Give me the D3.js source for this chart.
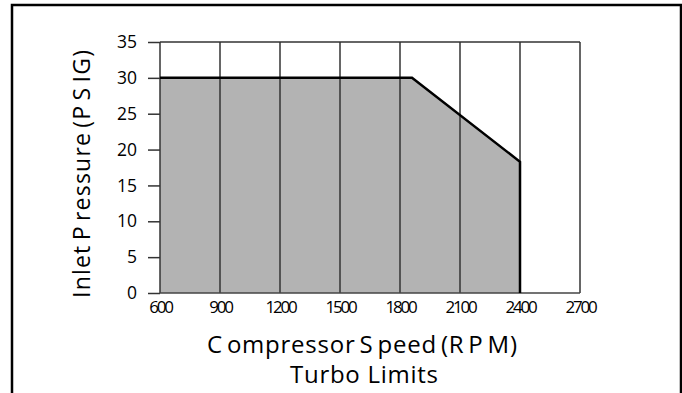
<!DOCTYPE html>
<html>
<head>
<meta charset="utf-8">
<script src="https://cdn.jsdelivr.net/npm/d3@7"></script>
<style>
  body { margin: 0; background: #fff; }
  svg { display: block; font-family: "Open Sans", sans-serif; }
</style>
</head>
<body>
<div class="container"></div>
<script>
// limit curve (rpm vs inlet pressure)
const limitRpm  = [600, 1860, 2400, 2400];
const limitPsig = [30, 30, 18.3, 0];

const xTicks = [600, 900, 1200, 1500, 1800, 2100, 2400, 2700];
const yTicks = [0, 5, 10, 15, 20, 25, 30, 35];

const w = 682, h = 393;
const plotL = 160, plotR = 580, plotT = 42, plotB = 293;

const svg = d3.select(".container").append("svg")
  .attr("width", w).attr("height", h);

/* outer frame */
svg.append("rect")
  .attr("x", 12).attr("y", 5)
  .attr("width", 669).attr("height", 420)
  .attr("fill", "none").attr("stroke", "#000").attr("stroke-width", 2.5);

const xScale = d3.scaleLinear().domain([600, 2700]).range([plotL, plotR]);
const yScale = d3.scaleLinear().domain([0, 35]).range([plotB, plotT]);

const pts = limitRpm.map((r, i) => [r, limitPsig[i]]);

/* shaded area under the limit */
const area = d3.area()
  .x(d => xScale(d[0]))
  .y0(yScale(0))
  .y1(d => yScale(d[1]));
svg.append("path")
  .datum(pts.slice(0, 3))
  .attr("d", area)
  .attr("fill", "#b3b3b3");

/* vertical grid lines */
svg.append("g").selectAll("line")
  .data(xTicks)
  .enter().append("line")
  .attr("x1", d => xScale(d)).attr("x2", d => xScale(d))
  .attr("y1", yScale(0)).attr("y2", yScale(35))
  .attr("stroke", "#333").attr("stroke-width", 1.5);

/* top and bottom frame */
svg.append("line")
  .attr("x1", plotL).attr("x2", plotR)
  .attr("y1", yScale(35)).attr("y2", yScale(35))
  .attr("stroke", "#333").attr("stroke-width", 1.5);
svg.append("line")
  .attr("x1", plotL).attr("x2", plotR)
  .attr("y1", yScale(0)).attr("y2", yScale(0))
  .attr("stroke", "#444").attr("stroke-width", 1.5);

/* limit line */
const line = d3.line()
  .x(d => xScale(d[0]))
  .y(d => yScale(d[1]));
svg.append("path")
  .datum(pts)
  .attr("d", line)
  .attr("fill", "none")
  .attr("stroke", "#000")
  .attr("stroke-width", 2.5);

/* y axis */
const yAxis = d3.axisLeft(yScale).tickValues(yTicks).tickSize(12).tickPadding(11);
const gy = svg.append("g")
  .attr("transform", `translate(${plotL},0)`)
  .call(yAxis);
gy.select(".domain").remove();
gy.selectAll("line").attr("stroke", "#333").attr("stroke-width", 1.5);
gy.selectAll("text")
  .attr("font-family", "Open Sans")
  .attr("font-size", 17.5)
  .attr("fill", "#000");

/* x axis */
const xAxis = d3.axisBottom(xScale).tickValues(xTicks).tickFormat(d3.format("d"))
  .tickSize(0).tickPadding(8);
const gx = svg.append("g")
  .attr("transform", `translate(0,${plotB})`)
  .call(xAxis);
gx.select(".domain").remove();
gx.selectAll("text")
  .attr("font-family", "Open Sans")
  .attr("font-size", 17)
  .attr("letter-spacing", "-2.2px")
  .attr("fill", "#000");

/* axis titles */
svg.append("text")
  .attr("transform", "translate(90,174) rotate(-90)")
  .attr("text-anchor", "middle")
  .attr("font-size", 23)
  .attr("word-spacing", "-3px")
  .attr("textLength", 248)
  .text("Inlet P ressure (P S IG)");

svg.append("text")
  .attr("x", 362).attr("y", 353)
  .attr("text-anchor", "middle")
  .attr("font-size", 24)
  .attr("word-spacing", "-3px")
  .attr("textLength", 310)
  .text("C ompressor S peed (R P M)");

svg.append("text")
  .attr("x", 364).attr("y", 383)
  .attr("text-anchor", "middle")
  .attr("font-size", 24)
  .attr("textLength", 148)
  .text("Turbo Limits");
</script>
</body>
</html>
